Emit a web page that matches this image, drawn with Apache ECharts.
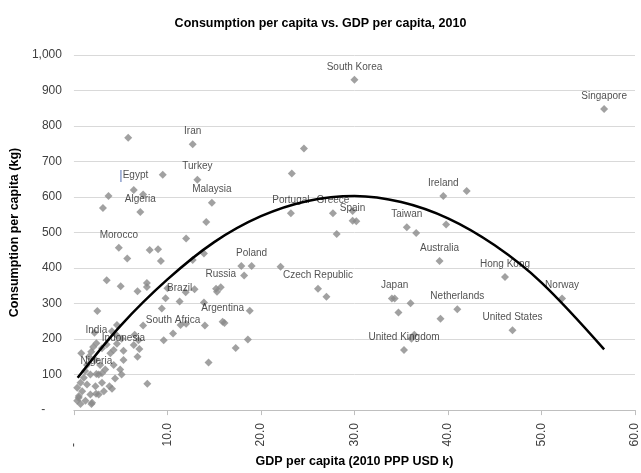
<!DOCTYPE html>
<html>
<head>
<meta charset="utf-8">
<script src="https://cdn.jsdelivr.net/npm/echarts@6/dist/echarts.min.js"></script>
<style>
html,body{margin:0;padding:0;background:#fff;}
#chart{width:641px;height:473px;}
</style>
</head>
<body>
<div id="chart"></div>
<script>
// Labeled countries
const labeledNames = ['South Korea','Singapore','Iran','Egypt','Algeria','Turkey','Malaysia','Morocco','Portugal','Greece','Spain','Taiwan','Ireland','Australia','Hong Kong','Norway','Netherlands','United States','Japan','United Kingdom','Czech Republic','Poland','Russia','Argentina','Brazil','South Africa','India','Indonesia','Nigeria'];
const labeledGdp  = [30.0, 56.7, 12.7, 6.4, 7.1, 13.2, 14.75, 4.8, 23.2, 27.7, 29.8, 35.6, 39.5, 39.1, 46.1, 52.2, 41.0, 46.9, 34.3, 35.3, 26.1, 19.0, 15.7, 15.9, 11.3, 10.6, 2.4, 5.3, 2.4];
const labeledCons = [930, 848, 749, 620, 558, 649, 584, 457, 554, 554, 533, 515, 603, 420, 375, 314, 284, 225, 314, 169, 342, 406, 346, 249, 306, 216, 188, 167, 102];

// Unlabeled countries
const otherGdp  = [24.6, 23.3, 5.8, 9.5, 7.4, 3.7, 3.1, 14.15, 12.0, 9.0, 8.1, 9.3, 12.7, 13.9, 5.7, 17.9, 18.2, 22.1, 28.1, 42.0, 39.8, 36.6, 30.2, 29.8, 34.0, 36.0, 34.7, 39.2, 36.4, 36.1, 27.0, 15.2, 15.3, 16.1, 14.0, 18.8, 18.6, 17.3, 14.4, 10.0, 11.95, 12.9, 9.8, 13.9, 9.4, 11.4, 12.0, 9.6, 3.5, 5.0, 6.8, 7.8, 7.8, 2.5, 7.4, 7.85,
  0.35, 0.53, 0.7, 0.35, 0.7, 0.88, 1.06, 1.23, 1.4, 1.4, 1.76, 1.76, 1.6, 1.85, 1.87, 1.94, 2.05, 2.2, 2.3, 2.3, 2.37, 2.65, 2.65, 2.8, 3.0, 3.0, 3.2, 3.35, 3.5, 3.8, 3.9, 4.07, 4.06, 4.25, 4.25, 4.4, 4.6, 4.6, 4.6, 4.95, 5.1, 5.1, 5.3, 6.4, 6.5, 6.9, 7.0, 6.8, 0.78, 3.0, 1.2, 0.5];
const otherCons = [737, 666, 767, 663, 607, 603, 569, 530, 483, 453, 451, 420, 423, 441, 427, 406, 379, 404, 496, 617, 523, 499, 532, 561, 314, 301, 275, 257, 212, 201, 319, 342, 333, 245, 238, 280, 199, 175, 134, 343, 332, 340, 315, 303, 286, 240, 243, 197, 366, 349, 335, 358, 347, 279, 238, 74,
  26, 40, 17, 63, 77, 53, 91, 26, 72, 127, 44, 100, 150, 164, 17, 21, 178, 218, 141, 67, 46, 100, 44, 127, 174, 77, 53, 114, 185, 67, 160, 60, 222, 169, 127, 89, 187, 240, 210, 114, 201, 100, 141, 183, 212, 197, 172, 150, 160, 104, 110, 35];

// Trend line
const trendGdp  = [0.4, 5, 10, 15, 20, 25, 30, 35, 40, 45, 50, 56.7];
const trendCons = [91, 238, 368, 473, 546, 589, 603, 586, 540, 464, 359, 171];

const FONT = 'Liberation Sans, Arial, sans-serif';

const chart = echarts.init(document.getElementById('chart'));
chart.setOption({
  backgroundColor: '#fff',
  animation: false,
  title: {
    text: 'Consumption per capita vs. GDP per capita, 2010',
    left: 'center', top: 17, padding: 0,
    textStyle: { fontFamily: FONT, fontSize: 12.5, fontWeight: 'bold', color: '#000' }
  },
  grid: { left: 72, right: 4, top: 55, bottom: 57 },
  xAxis: {
    type: 'value', min: 0, max: 60, interval: 10,
    name: 'GDP per capita (2010 PPP USD k)', nameLocation: 'middle', nameGap: 44,
    nameTextStyle: { fontFamily: FONT, fontSize: 12.5, fontWeight: 'bold', color: '#000' },
    axisLine: { show: true, lineStyle: { color: '#bfbfbf', width: 1 } },
    axisTick: { show: true, length: 5, lineStyle: { color: '#bfbfbf' } },
    splitLine: { show: false },
    axisLabel: {
      rotate: 90, margin: 13, fontFamily: FONT, fontSize: 12, color: '#404040',
      formatter: v => v === 0 ? '-      ' : v.toFixed(1)
    }
  },
  yAxis: {
    type: 'value', min: 0, max: 1000, interval: 100,
    name: 'Consumption per capita (kg)', nameLocation: 'middle', nameRotate: 90, nameGap: 51,
    nameTextStyle: { fontFamily: FONT, fontSize: 12.5, fontWeight: 'bold', color: '#000' },
    axisLine: { show: false }, axisTick: { show: false },
    splitLine: { show: true, lineStyle: { color: '#d9d9d9', width: 1 } },
    axisLabel: {
      margin: 12, fontFamily: FONT, fontSize: 12, color: '#404040',
      formatter: v => v === 0 ? '-     ' : v.toLocaleString('en-US')
    }
  },
  series: [
    {
      type: 'scatter', z: 2,
      symbol: 'diamond', symbolSize: 8,
      itemStyle: { color: '#8a8a8a' },
      data: otherGdp.map((g, i) => [g, otherCons[i]])
    },
    {
      type: 'scatter', z: 2,
      symbol: 'diamond', symbolSize: 8,
      itemStyle: { color: '#8a8a8a' },
      label: {
        show: true, position: 'top', distance: 4,
        fontFamily: FONT, fontSize: 10, color: '#262626',
        formatter: p => p.name === 'Egypt' ? '{cur||}Egypt' : p.name,
        rich: { cur: { color: '#3a5aa8', fontSize: 13, fontFamily: FONT } }
      },
      data: labeledNames.map((n, i) => ({ name: n, value: [labeledGdp[i], labeledCons[i]] }))
    },
    {
      type: 'line', z: 5, smooth: 0.35, symbol: 'none',
      lineStyle: { color: '#000', width: 2.5 },
      data: trendGdp.map((g, i) => [g, trendCons[i]])
    }
  ]
});
</script>
</body>
</html>
